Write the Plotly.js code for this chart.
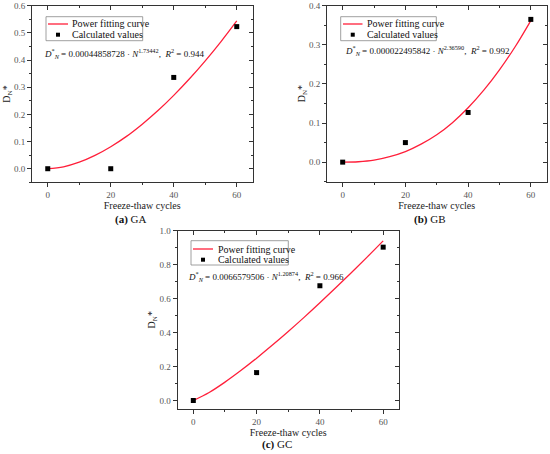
<!DOCTYPE html>
<html>
<head>
<meta charset="utf-8">
<script src="https://cdn.plot.ly/plotly-3.0.1.min.js"></script>
<style>html,body{margin:0;padding:0;background:#fff;}#chart{width:550px;height:454px;}</style>
</head>
<body>
<div id="chart"></div>
<script>
// ---- data ----
const curveCycles = [0, 5, 10, 15, 20, 25, 30, 35, 40, 45, 50, 55, 60];
const gaCurve = [0.000, 0.007, 0.024, 0.049, 0.081, 0.119, 0.164, 0.214, 0.270, 0.331, 0.397, 0.468, 0.544];
const gbCurve = [0.000, 0.001, 0.005, 0.014, 0.027, 0.046, 0.070, 0.101, 0.139, 0.184, 0.236, 0.295, 0.362];
const gcCurve = [0.000, 0.047, 0.108, 0.176, 0.249, 0.326, 0.406, 0.489, 0.575, 0.663, 0.753, 0.845, 0.939];

const pointCycles = [0, 20, 40, 60];
const gaPoints = [0.000, 0.000, 0.336, 0.523];
const gbPoints = [0.000, 0.050, 0.127, 0.365];
const gcPoints = [0.000, 0.164, 0.675, 0.902];

const fitCoefs = ['0.00044858728', '0.000022495842', '0.0066579506'];
const fitExps = ['1.73442', '2.36590', '1.20874'];
const fitR2 = ['0.944', '0.992', '0.966'];
const panelNames = ['GA', 'GB', 'GC'];
const panelLetters = ['(a)', '(b)', '(c)'];

// tick steps (major / minor)
const xTickStep = [20, 10];
const gaYTickStep = [0.1, 0.05];
const gbYTickStep = [0.1, 0.05];
const gcYTickStep = [0.2, 0.1];

const legendNames = ['Power fitting curve', 'Calculated values'];
const xTitle = 'Freeze-thaw cycles';
const yTitle = 'D<sub>N</sub>*';

// ---- layout helpers ----
const W = 550, H = 454;
const fx = x => x / W;
const fy = y => 1 - y / H;
const FONT = 'Liberation Serif';
const AX = '#333';
const RED = '#ff1f3a';

const panels = [
  {frame: [32, 252.5, 5.7, 182.3], yr: [-0.05, 0.6], ys: gaYTickStep,
   curve: gaCurve, pts: gaPoints, legBox: [46, 142.7, 16.7, 40.7], legLine: [48, 68], legRows: [24, 34.7], legText: 70,
   eq: [41.7, 53.3], cap: [131, 219.5]},
  {frame: [327, 546.5, 5.7, 181.7], yr: [-0.05, 0.4], ys: gbYTickStep,
   curve: gbCurve, pts: gbPoints, legBox: [340.7, 436.3, 16.7, 40.7], legLine: [343, 362.5], legRows: [24, 34.7], legText: 364.5,
   eq: [343, 50.7], cap: [429, 219.5]},
  {frame: [177.5, 399, 230.5, 409], yr: [-0.05, 1.0], ys: gcYTickStep,
   curve: gcCurve, pts: gcPoints, legBox: [191, 288.3, 240.7, 265], legLine: [193, 213], legRows: [249, 259.7], legText: 216,
   eq: [185.7, 276.7], cap: [277, 444.3]}
];

const layout = {
  width: W, height: H,
  margin: {l: 0, r: 0, t: 0, b: 0},
  paper_bgcolor: '#fff', plot_bgcolor: '#fff',
  showlegend: false,
  font: {family: FONT, color: '#222', size: 10},
  shapes: [], annotations: []
};
const traces = [];

panels.forEach((p, i) => {
  const n = i + 1, m = i + 4;
  const xa = 'xaxis' + (n === 1 ? '' : n), ya = 'yaxis' + (n === 1 ? '' : n);
  const xid = 'x' + (n === 1 ? '' : n), yid = 'y' + (n === 1 ? '' : n);
  const xdom = [fx(p.frame[0]), fx(p.frame[1])];
  const ydom = [fy(p.frame[3]), fy(p.frame[2])];
  const common = {showline: true, linecolor: AX, linewidth: 1, tickcolor: AX, tickwidth: 1,
    showgrid: false, zeroline: false, fixedrange: true};
  layout[xa] = Object.assign({}, common, {
    domain: xdom, anchor: yid, range: [-5, 65],
    tick0: 0, dtick: xTickStep[0],
    ticks: 'outside', ticklen: 4,
    minor: {tick0: 0, dtick: xTickStep[1], ticks: 'outside', ticklen: 2, tickcolor: AX},
    tickfont: {family: FONT, size: 9, color: '#555'},
    title: {text: xTitle, font: {family: FONT, size: 10, color: '#222'}, standoff: 2}
  });
  layout[ya] = Object.assign({}, common, {
    domain: ydom, anchor: xid, range: p.yr,
    tick0: 0, dtick: p.ys[0], tickformat: '.1f',
    ticks: 'outside', ticklen: 4,
    minor: {tick0: 0, dtick: p.ys[1], ticks: 'outside', ticklen: 2, tickcolor: AX},
    tickfont: {family: FONT, size: 9, color: '#555'},
    title: {text: yTitle, font: {family: FONT, size: 10, color: '#222'}, standoff: 0}
  });
  // mirrored frame (top / right) with inward ticks, as in the reference
  layout['xaxis' + m] = Object.assign({}, common, {
    overlaying: xid, side: 'top', anchor: 'y' + m, range: [-5, 65],
    tick0: 0, dtick: xTickStep[0], ticks: 'inside', ticklen: 4, showticklabels: false,
    minor: {tick0: 0, dtick: xTickStep[1], ticks: 'inside', ticklen: 2, tickcolor: AX}
  });
  layout['yaxis' + m] = Object.assign({}, common, {
    overlaying: yid, side: 'right', anchor: 'x' + m, range: p.yr,
    tick0: 0, dtick: p.ys[0], ticks: 'inside', ticklen: 4, showticklabels: false,
    minor: {tick0: 0, dtick: p.ys[1], ticks: 'inside', ticklen: 2, tickcolor: AX}
  });

  traces.push({type: 'scatter', x: [], y: [], xaxis: 'x' + m, yaxis: 'y' + m,
    hoverinfo: 'skip', showlegend: false});
  traces.push({type: 'scatter', mode: 'lines', name: legendNames[0], x: curveCycles, y: p.curve,
    xaxis: xid, yaxis: yid, line: {color: RED, width: 1.3, shape: 'spline'}});
  traces.push({type: 'scatter', mode: 'markers', name: legendNames[1], x: pointCycles, y: p.pts,
    xaxis: xid, yaxis: yid, marker: {symbol: 'square', size: 5, color: '#000'}, cliponaxis: false});

  // compact legend box as in the reference
  layout.shapes.push({type: 'rect', xref: 'paper', yref: 'paper',
    x0: fx(p.legBox[0]), x1: fx(p.legBox[1]), y0: fy(p.legBox[3]), y1: fy(p.legBox[2]),
    line: {color: '#888', width: 0.8}, fillcolor: 'rgba(0,0,0,0)'});
  layout.shapes.push({type: 'line', xref: 'paper', yref: 'paper',
    x0: fx(p.legLine[0]), x1: fx(p.legLine[1]), y0: fy(p.legRows[0]), y1: fy(p.legRows[0]),
    line: {color: RED, width: 1.3}});
  const sx = (p.legLine[0] + p.legLine[1]) / 2;
  layout.shapes.push({type: 'rect', xref: 'paper', yref: 'paper',
    x0: fx(sx - 2), x1: fx(sx + 2), y0: fy(p.legRows[1] + 2), y1: fy(p.legRows[1] - 2),
    line: {width: 0}, fillcolor: '#000'});
  legendNames.forEach((t, k) => {
    layout.annotations.push({xref: 'paper', yref: 'paper', x: fx(p.legText), y: fy(p.legRows[k]),
      xanchor: 'left', yanchor: 'middle', showarrow: false, text: t,
      font: {family: FONT, size: 10, color: '#111'}});
  });
  // fitting equation
  layout.annotations.push({xref: 'paper', yref: 'paper', x: fx(p.eq[0]), y: fy(p.eq[1]),
    xanchor: 'left', yanchor: 'middle', showarrow: false,
    text: '<i>D</i><sup>*</sup><sub><i>N</i></sub> = ' + fitCoefs[i] + ' · <i>N</i><sup>' + fitExps[i] +
      '</sup>,  <i>R</i><sup>2</sup> = ' + fitR2[i],
    font: {family: FONT, size: 9, color: '#111'}});
  // panel caption
  layout.annotations.push({xref: 'paper', yref: 'paper', x: fx(p.cap[0]), y: fy(p.cap[1]),
    xanchor: 'center', yanchor: 'middle', showarrow: false,
    text: '<b>' + panelLetters[i] + '</b> ' + panelNames[i],
    font: {family: FONT, size: 11, color: '#111'}});
});

Plotly.newPlot('chart', traces, layout, {displayModeBar: false});
</script>
</body>
</html>
